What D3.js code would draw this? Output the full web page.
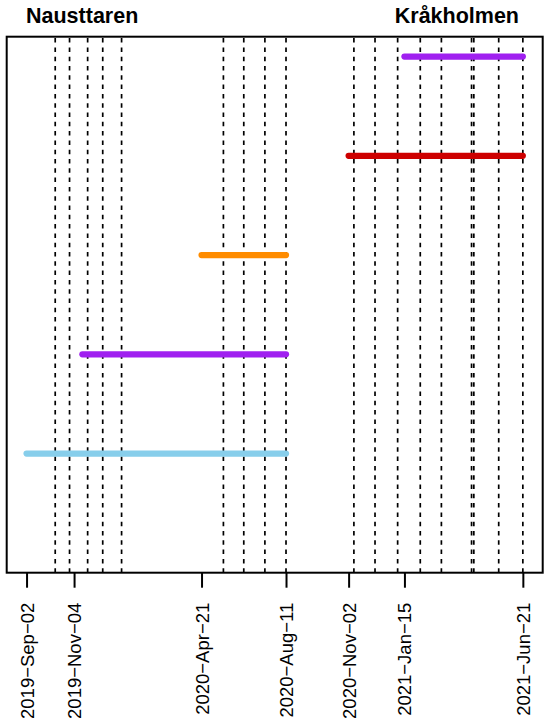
<!DOCTYPE html>
<html>
<head>
<meta charset="utf-8">
<script src="https://cdn.jsdelivr.net/npm/d3@7"></script>
<style>
  body { margin: 0; background: #fff; }
  svg text { font-family: "Liberation Sans", Arial, sans-serif; }
</style>
</head>
<body>
<div id="chart"></div>
<script>
// sites shown at the top
var siteNames = ["Nausttaren", "Kråkholmen"];

// deployment periods, one per row
var segRows = [2, 3, 4, 5, 6];
var segStart = ["2019-09-02", "2019-11-15", "2020-04-21", "2020-11-02", "2021-01-15"];
var segEnd = ["2020-08-11", "2020-08-11", "2020-08-11", "2021-06-21", "2021-06-21"];
var segColors = ["#87ceeb", "#a020f0", "#ff8c00", "#cd0000", "#a020f0"];

// field visits (dashed lines)
var visitDates = [
    "2019-10-10", "2019-10-29", "2019-11-22", "2019-12-12", "2020-01-06",
    "2020-05-20", "2020-06-16", "2020-07-14", "2020-08-11",
    "2020-11-09", "2020-12-07", "2021-01-06", "2021-02-05", "2021-03-05",
    "2021-04-14", "2021-04-17", "2021-05-20", "2021-06-21"
];

// axis tick labels
var tickDates = ["2019-09-02", "2019-11-04", "2020-04-21", "2020-08-11", "2020-11-02", "2021-01-15", "2021-06-21"];

var rowRange = [1, 6];

var W = 550, H = 725;
var plotL = 6.7, plotR = 542.7, plotT = 36.7, plotB = 572.7;
var parse = d3.utcParse("%Y-%m-%d");

var svg = d3.select("#chart").append("svg")
    .attr("width", W)
    .attr("height", H);

var allDates = segStart.concat(segEnd).map(parse);
var ext = d3.extent(allDates);
var pad = (ext[1] - ext[0]) * 0.04;
var x = d3.scaleUtc()
    .domain([new Date(+ext[0] - pad), new Date(+ext[1] + pad)])
    .range([plotL, plotR]);

var yPad = (rowRange[1] - rowRange[0]) * 0.04;
var y = d3.scaleLinear()
    .domain([rowRange[0] - yPad, rowRange[1] + yPad])
    .range([plotB, plotT]);

// dashed visit lines
svg.append("g")
    .selectAll("line")
    .data(visitDates.map(parse))
    .enter().append("line")
    .attr("x1", function (d) { return x(d); })
    .attr("x2", function (d) { return x(d); })
    .attr("y1", plotB)
    .attr("y2", plotT)
    .attr("stroke", "#000")
    .attr("stroke-width", 1.7)
    .attr("stroke-dasharray", "4.5,4.8");

// deployment segments
svg.append("g")
    .selectAll("line")
    .data(segRows)
    .enter().append("line")
    .attr("x1", function (d, i) { return x(parse(segStart[i])); })
    .attr("x2", function (d, i) { return x(parse(segEnd[i])); })
    .attr("y1", function (d) { return y(d); })
    .attr("y2", function (d) { return y(d); })
    .attr("stroke", function (d, i) { return segColors[i]; })
    .attr("stroke-width", 6.2)
    .attr("stroke-linecap", "round");

// frame
svg.append("rect")
    .attr("x", plotL)
    .attr("y", plotT)
    .attr("width", plotR - plotL)
    .attr("height", plotB - plotT)
    .attr("fill", "none")
    .attr("stroke", "#000")
    .attr("stroke-width", 2);

// x axis
var fmt = d3.utcFormat("%Y-%b-%d");
var axis = d3.axisBottom(x)
    .tickValues(tickDates.map(parse))
    .tickSize(15)
    .tickFormat(function (d) { return fmt(d).replace(/-/g, "\u2212"); });

var gx = svg.append("g")
    .attr("transform", "translate(0," + plotB + ")")
    .call(axis);
gx.select(".domain").remove();
gx.selectAll(".tick line").attr("stroke", "#000").attr("stroke-width", 2);
gx.selectAll(".tick text")
    .attr("font-size", 18.5)
    .attr("fill", "#000")
    .attr("text-anchor", "end")
    .attr("transform", "translate(0,30) rotate(-90)")
    .attr("x", 0)
    .attr("y", 0)
    .attr("dy", "0.35em");

// site titles
svg.append("text")
    .attr("x", 26)
    .attr("y", 23)
    .attr("font-size", 21.5)
    .attr("font-weight", "bold")
    .text(siteNames[0]);

svg.append("text")
    .attr("x", 519)
    .attr("y", 23)
    .attr("text-anchor", "end")
    .attr("font-size", 21.5)
    .attr("font-weight", "bold")
    .text(siteNames[1]);
</script>
</body>
</html>
